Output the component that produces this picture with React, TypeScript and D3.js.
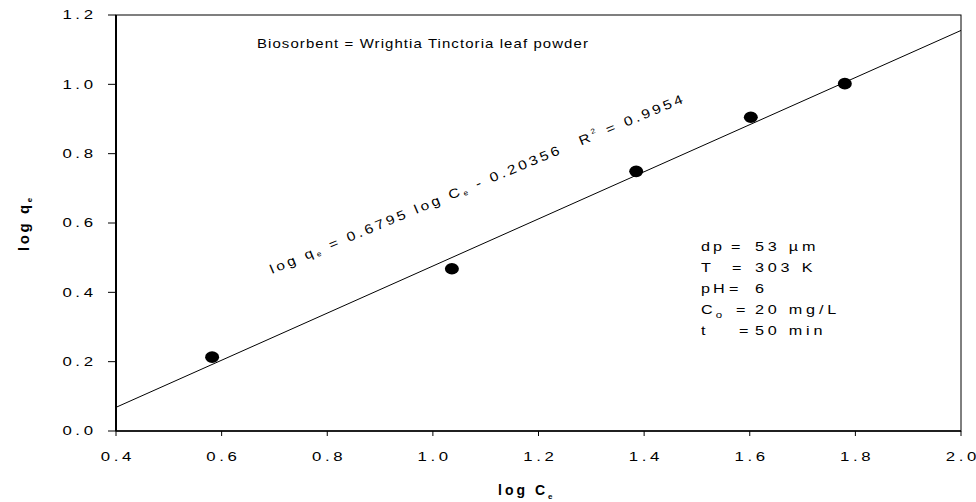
import React from 'react';
import * as d3 from 'd3';

// log Ce vs log qe (Freundlich plot)
const logCe = [0.582, 1.036, 1.385, 1.602, 1.78];
const logQe = [0.213, 0.468, 0.749, 0.905, 1.002];
const xTicks = [0.4, 0.6, 0.8, 1.0, 1.2, 1.4, 1.6, 1.8, 2.0];
const yTicks = [0.0, 0.2, 0.4, 0.6, 0.8, 1.0, 1.2];
const slope = 0.6795;
const intercept = -0.20356;
const paramLabels = ['dp', 'T', 'pH', 'C', 't'];
const paramSubs = ['', '', '', 'o', ''];
const paramValues = ['53 µm', '303 K', '6', '20 mg/L', '50 min'];
const eqOffsets = [30, 31, 28, 35, 38];

const W = 976;
const H = 502;
const margin = { top: 15, right: 15, bottom: 71, left: 116 };
const FONT = '"Liberation Sans", Arial, sans-serif';
const SX = 1.35; // the original font is drawn wide

// spaced, horizontally stretched label, no trailing space after the last character
const Spaced = ({ x, y, str, gap, anchor }: { x: number; y: number; str: string; gap: number; anchor: string }) => (
  <text transform={`translate(${x},${y}) scale(1.4,1)`} textAnchor={anchor} fontSize={12}>
    {str.split('').map((ch, i) => (
      <tspan key={i} dx={i === 0 ? 0 : gap}>{ch}</tspan>
    ))}
  </text>
);

export default function App() {
  const x = d3.scaleLinear().domain([0.4, 2.0]).range([margin.left, W - margin.right]);
  const y = d3.scaleLinear().domain([0, 1.2]).range([H - margin.bottom, margin.top]);

  const fitLine = d3.line<number>()
    .x(d => x(d))
    .y(d => y(slope * d + intercept));

  const x0 = margin.left, x1 = W - margin.right;
  const y0 = H - margin.bottom, y1 = margin.top;
  const fmt = d3.format('.1f');

  return (
    <svg width={W} height={H} style={{ position: 'fixed', left: 0, top: 0, background: '#fff' }}
      fontFamily={FONT}>
      {/* frame */}
      <rect x={x0} y={y1} width={x1 - x0} height={y0 - y1} fill="none" stroke="#000" strokeWidth={1} />
      <line x1={x0} x2={x0} y1={y1} y2={y0} stroke="#000" strokeWidth={2} />
      <line x1={x0} x2={x1} y1={y0} y2={y0} stroke="#000" strokeWidth={1.5} />

      {/* y axis ticks */}
      {yTicks.map(t => (
        <g key={'y' + t}>
          <line x1={x0 - 8} x2={x0} y1={y(t)} y2={y(t)} stroke="#000" strokeWidth={1} />
          <Spaced x={x0 - 23} y={y(t) + 4.3} str={fmt(t)} gap={2.6} anchor="end" />
        </g>
      ))}

      {/* x axis ticks */}
      {xTicks.map(t => (
        <g key={'x' + t}>
          <line x1={x(t)} x2={x(t)} y1={y0} y2={y0 + 5} stroke="#000" strokeWidth={1} />
          <Spaced x={x(t)} y={y0 + 29.5} str={fmt(t)} gap={2.6} anchor="middle" />
        </g>
      ))}

      {/* regression line */}
      <path d={fitLine([0.4, 2.0]) || ''} fill="none" stroke="#000" strokeWidth={1} />

      {/* data points */}
      {logCe.map((c, i) => (
        <ellipse key={i} cx={x(c)} cy={y(logQe[i])} rx={7} ry={5.8} fill="#000" />
      ))}

      {/* title */}
      <text transform="translate(257,48) scale(1.15,1)" fontSize={13} letterSpacing={0.95}>
        Biosorbent = Wrightia Tinctoria leaf powder
      </text>

      {/* equation */}
      <text transform="translate(272,274) rotate(-22.6) scale(1.2,1)" fontSize={13} letterSpacing={2.5}>
        log q<tspan fontSize={7} dy={2}>e</tspan>
        <tspan dy={-2}> = 0.6795 log C</tspan>
        <tspan fontSize={7} dy={2}>e</tspan>
        <tspan dy={-2}>{' - 0.20356'}</tspan>
        <tspan dx={16}>R</tspan>
        <tspan fontSize={7} dy={-6}>2</tspan>
        <tspan dy={6}> = 0.9954</tspan>
      </text>

      {/* parameters */}
      {paramLabels.map((lab, i) => {
        const by = 251 + i * 21;
        return (
          <g key={i} fontSize={12}>
            <text transform={`translate(701,${by}) scale(${SX},1)`} letterSpacing={2.2}>
              {lab}
              {paramSubs[i] && <tspan fontSize={8.5} dy={4}>{paramSubs[i]}</tspan>}
            </text>
            <text transform={`translate(${701 + eqOffsets[i]},${by}) scale(${SX},1)`}>=</text>
            <text transform={`translate(755,${by}) scale(${SX},1)`} letterSpacing={2.8}>
              {paramValues[i]}
            </text>
          </g>
        );
      })}

      {/* axis labels */}
      <text x={498} y={495} fontSize={14} fontWeight="bold" letterSpacing={3}>
        log C<tspan fontSize={8} dy={4}>e</tspan>
      </text>
      <text transform="translate(29,223) rotate(-90)" textAnchor="middle" fontSize={15} fontWeight="bold"
        letterSpacing={2.6}>
        log q<tspan fontSize={8} dy={3}>e</tspan>
      </text>
    </svg>
  );
}
